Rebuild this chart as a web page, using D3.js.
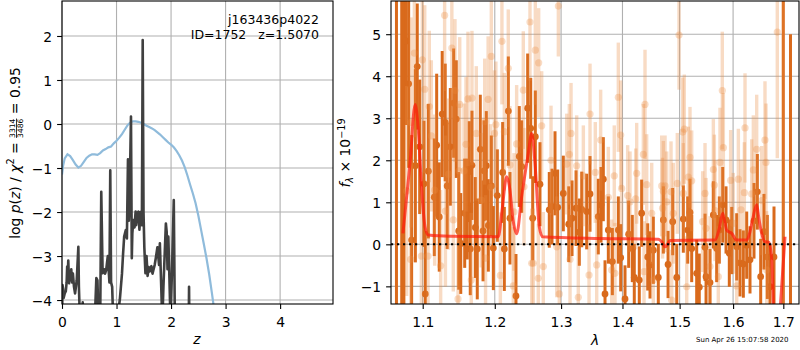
<!DOCTYPE html>
<html>
<head>
<meta charset="utf-8">
<script src="https://cdn.jsdelivr.net/npm/d3@7"></script>
<style>
  body { margin: 0; background: #fff; }
  text { font-family: "DejaVu Sans", sans-serif; fill: #000; }
</style>
</head>
<body>
<svg id="chart" width="800" height="350"></svg>
<script>
// ---- left panel: redshift probability ----
const pzZ = [0, 0.02, 0.05, 0.1, 0.15, 0.2, 0.25, 0.3, 0.35, 0.4, 0.45, 0.5, 0.55, 0.6, 0.65, 0.7, 0.75, 0.8, 0.85, 0.9, 0.95,
  1.0, 1.05, 1.1, 1.15, 1.2, 1.25, 1.3, 1.35, 1.4, 1.45, 1.5, 1.55, 1.6, 1.65, 1.7, 1.75, 1.8, 1.85, 1.9, 1.95,
  2.0, 2.05, 2.1, 2.15, 2.2, 2.25, 2.3, 2.35, 2.4, 2.45, 2.5, 2.55, 2.6, 2.65, 2.7, 2.75, 2.8]
const pzLog = [-1.15, -0.95, -0.78, -0.69, -0.73, -0.82, -0.92, -0.99, -0.95, -0.86, -0.77, -0.72, -0.69, -0.69, -0.70, -0.66, -0.60, -0.57, -0.53, -0.51, -0.44,
  -0.38, -0.31, -0.23, -0.13, -0.03, 0.03, 0.06, 0.06, 0.05, 0.03, 0.0, -0.04, -0.07, -0.10, -0.14, -0.19, -0.24, -0.30, -0.36, -0.42,
  -0.47, -0.53, -0.61, -0.71, -0.83, -0.98, -1.17, -1.38, -1.58, -1.80, -2.08, -2.40, -2.72, -3.05, -3.42, -3.85, -4.3]

const chiZ = [0.0, 0.01, 0.02, 0.03, 0.05, 0.07, 0.085, 0.095, 0.105, 0.115, 0.13, 0.145, 0.16, 0.17, 0.185, 0.2, 0.22, 0.24, 0.27, 0.3, 0.31, 0.33,
  0.36, 0.38, 0.40, 0.6, 0.63, 0.65, 0.67, 0.7, 0.72, 0.745, 0.77, 0.79, 0.81, 0.84, 0.87, 0.885, 0.9, 0.92, 0.94,
  1.0, 1.06, 1.08, 1.1, 1.12, 1.14, 1.17, 1.19, 1.21, 1.225, 1.24, 1.265, 1.28, 1.29, 1.31, 1.33, 1.35, 1.36, 1.38, 1.40, 1.42, 1.44, 1.465,
  1.48, 1.495, 1.51, 1.53, 1.55, 1.57, 1.59, 1.61, 1.64, 1.66, 1.68, 1.70, 1.72, 1.75, 1.78, 1.795, 1.81, 1.84, 1.86, 1.885, 1.905, 1.92,
  1.935, 1.95, 1.97, 1.99, 2.02, 2.05, 2.07, 2.325, 2.33, 2.335]
const chiLog = [-4.5, -3.66, -3.75, -3.95, -3.85, -3.8, -3.6, -3.24, -3.45, -3.1, -3.62, -3.35, -3.55, -3.3, -3.6, -3.4, -3.7, -3.85, -3.55, -2.79, -3.7, -4.5,
  -4.5, -4.05, -4.5, -4.5, -3.5, -3.55, -4.5, -4.5, -1.54, -3.39, -3.3, -3.4, -3.32, -3.0, -3.6, -1.05, -3.6, -3.7, -4.5,
  -4.5, -4.0, -3.7, -3.4, -2.95, -2.56, -2.41, -2.6, -0.80, -2.2, -1.7, 0.17, -3.05, -2.48, -2.18, -2.35, -1.99, -2.3, -2.03, -1.99, -2.4, -2.0, -2.3,
  1.91, -2.0, -2.8, -3.39, -3.0, -3.45, -3.25, -3.35, -3.23, -3.4, -3.3, -3.2, -3.05, -2.8, -3.2, -2.71, -3.3, -4.5, -3.7, -2.9, -2.26, -2.45,
  -3.3, -2.56, -3.5, -4.5, -3.2, -1.73, -4.5, -4.5, -3.7, -4.5]

const zTicks = [0, 1, 2, 3, 4]
const logpTicks = [-4, -3, -2, -1, 0, 1, 2]

// ---- right panel: spectrum, rows are [lambda, flux, error] ----
const darkPoints = [
  [1.0657, 7.0, 9], [1.0725, 7.0, 9], [1.0753, 7.0, 9], [1.0780, 4.84, 2.0], [1.0815, 3.82, 2.0], [1.0854, 0.10, 2.5],
  [1.0903, 1.87, 2.3], [1.0928, 4.23, 1.5], [1.0960, 2.32, 1.6], [1.1017, 1.44, 1.5], [1.1034, -1.18, 1.5], [1.1075, 1.74, 1.6],
  [1.1155, 1.12, 1.4], [1.1187, 2.36, 1.7], [1.1222, 0.65, 1.3], [1.1262, 3.10, 1.5], [1.1303, 2.90, 1.4], [1.1330, 1.39, 1.5],
  [1.1373, 2.32, 1.4], [1.1419, 3.36, 1.3], [1.1455, 2.98, 1.4], [1.1489, 0.32, 1.4], [1.1517, 0.02, 1.2], [1.1572, 0.74, 1.3],
  [1.1608, 0.84, 1.2], [1.1636, 1.73, 1.2], [1.1650, -0.11, 1.1], [1.1674, 1.88, 1.3], [1.1721, 0.40, 1.2], [1.1749, -0.11, 1.2],
  [1.1792, 2.26, 1.3], [1.1831, 0.32, 1.2], [1.1845, 1.75, 1.2], [1.1878, 1.87, 1.3], [1.1907, 0.45, 1.1], [1.1950, 1.39, 1.2],
  [1.1979, -0.09, 1.0], [1.2037, 1.16, 1.1], [1.2115, 1.71, 1.2], [1.2139, -0.11, 1.0], [1.2198, 3.17, 1.3], [1.2222, 0.62, 1.1],
  [1.2311, -1.23, 1.0], [1.2360, 2.09, 1.2], [1.2396, 1.85, 1.1], [1.2486, 3.24, 1.3], [1.2532, 2.76, 1.2], [1.2562, 0.62, 1.0],
  [1.2602, 2.56, 1.1], [1.2673, 1.43, 1.0], [1.2816, 0.82, 0.9], [1.2858, 0.90, 0.9], [1.2905, 1.69, 1.0], [1.2947, 0.88, 0.9],
  [1.3035, 1.21, 0.9], [1.3121, 0.48, 0.9], [1.3173, 0.62, 0.9], [1.3237, 0.86, 0.9], [1.3289, 0.29, 0.8], [1.3328, 0.83, 0.9],
  [1.3408, 0.78, 0.9], [1.3462, 1.20, 0.9], [1.3597, 0.66, 0.9], [1.3642, 0.94, 0.9], [1.3680, 1.55, 1.0], [1.3708, -1.18, 0.8],
  [1.3763, 0.34, 0.8], [1.3830, -0.41, 0.8], [1.3930, 0.34, 0.8], [1.3970, -0.32, 0.8], [1.4043, -1.30, 0.8], [1.4105, 0.24, 0.8],
  [1.4167, -0.10, 0.8], [1.4201, -0.79, 0.8], [1.4287, -0.85, 0.8], [1.4328, 0.74, 0.8], [1.4433, -0.30, 0.8], [1.4473, -0.49, 0.8],
  [1.4531, -0.14, 0.8], [1.4619, -0.79, 0.8], [1.4708, 0.58, 0.8], [1.4792, -0.48, 0.8], [1.4875, 0.54, 0.8], [1.4948, -0.79, 0.8],
  [1.5067, 0.60, 0.8], [1.5147, 0.34, 0.8], [1.5189, 0.76, 0.8], [1.5220, -0.10, 0.8], [1.5312, -0.69, 0.8], [1.5360, -1.02, 0.8],
  [1.5467, -0.07, 0.8], [1.5486, -0.77, 0.8], [1.5560, -0.91, 0.8], [1.5623, 0.70, 0.8], [1.5686, -0.10, 0.8], [1.5736, 0.34, 0.8],
  [1.5801, 0.94, 0.9], [1.5864, 0.58, 0.8], [1.5927, -0.21, 0.8], [1.5974, 0.09, 0.8], [1.6070, -0.06, 0.8], [1.6134, -0.44, 0.8],
  [1.6199, -0.47, 0.8], [1.6265, -0.02, 0.8], [1.6330, -0.37, 0.8], [1.6409, 0.56, 0.9], [1.6475, 1.25, 0.9], [1.6542, -0.77, 0.9],
  [1.6608, 0.30, 0.9], [1.6675, -0.30, 1.0], [1.6729, -1.01, 1.0], [1.6810, -0.30, 1.2], [1.7000, 7.0, 9], [1.7148, -2.5, 7.5]
]

const lightPoints = [
  [1.0789, 1.27, 2.5], [1.0842, -0.36, 2.5], [1.0846, 2.90, 2.5], [1.0890, 4.55, 2.0], [1.0982, -0.28, 2.0], [1.0995, 4.39, 2.0],
  [1.1027, 3.69, 2.0], [1.1071, -0.28, 1.8], [1.1088, 3.28, 1.8], [1.1115, 2.58, 1.8], [1.1160, 1.29, 1.8], [1.1241, -0.51, 1.8],
  [1.1295, 5.45, 1.8], [1.1306, 0.79, 1.8], [1.1348, 1.67, 1.8], [1.1394, 4.67, 1.7], [1.1414, 0.58, 1.7], [1.1437, 3.66, 1.7],
  [1.1479, -1.30, 1.6], [1.1493, 1.75, 1.6], [1.1503, 3.33, 1.6], [1.1562, 1.75, 1.6], [1.1590, 2.38, 1.6], [1.1618, 3.46, 1.6],
  [1.1664, -0.85, 1.6], [1.1674, 3.48, 1.6], [1.1735, 2.64, 1.6], [1.1806, 1.05, 1.6], [1.1855, 2.92, 1.5], [1.1867, -0.33, 1.5],
  [1.1904, 3.45, 1.5], [1.1939, 1.36, 1.5], [1.1950, 4.47, 1.5], [1.1996, 2.64, 1.5], [1.2016, 2.85, 1.5], [1.2081, -0.74, 1.5],
  [1.2104, 4.83, 1.5], [1.2139, 2.68, 1.4], [1.2197, 4.19, 1.4], [1.2222, 1.89, 1.4], [1.2271, -0.99, 1.4], [1.2281, 0.77, 1.4],
  [1.2321, 2.39, 1.4], [1.2420, 3.67, 1.4], [1.2431, 1.37, 1.4], [1.2521, 5.29, 1.4], [1.2547, -0.45, 1.3], [1.2571, -0.45, 1.3],
  [1.2602, 4.62, 1.3], [1.2647, -0.81, 1.3], [1.2653, 4.32, 1.3], [1.2699, 2.82, 1.3], [1.2724, -0.53, 1.3], [1.2843, 2.00, 1.3],
  [1.2932, -0.06, 1.2], [1.2957, 5.67, 1.2], [1.2972, -1.18, 1.2], [1.3089, 1.91, 1.2], [1.3130, 2.14, 1.2], [1.3141, -0.36, 1.2],
  [1.3157, 2.64, 1.2], [1.3247, 1.87, 1.2], [1.3273, -1.26, 1.2], [1.3354, 1.63, 1.2], [1.3446, -0.73, 1.2], [1.3462, 3.10, 1.2],
  [1.3548, 1.71, 1.2], [1.3571, -0.49, 1.2], [1.3636, 2.48, 1.2], [1.3763, 1.12, 1.2], [1.3819, -0.61, 1.2], [1.3862, 1.63, 1.2],
  [1.3874, -0.69, 1.2], [1.3930, 3.50, 1.3], [1.3970, 2.60, 1.3], [1.3986, 1.33, 1.2], [1.4088, 1.16, 1.2], [1.4128, 1.01, 1.2],
  [1.4225, 1.08, 1.2], [1.4242, 1.69, 1.2], [1.4357, 2.14, 1.2], [1.4369, -0.65, 1.2], [1.4386, 3.33, 1.3], [1.4415, 1.42, 1.2],
  [1.4503, 0.74, 1.2], [1.4531, -0.85, 1.2], [1.4679, 1.39, 1.2], [1.4694, 0.86, 1.2], [1.4708, 1.26, 1.2], [1.4738, 1.39, 1.2],
  [1.4768, 1.01, 1.2], [1.4845, 1.25, 1.2], [1.4857, -1.33, 1.2], [1.4886, 0.74, 1.2], [1.4958, 1.45, 1.2], [1.4989, 4.98, 1.3],
  [1.5056, 2.67, 1.3], [1.5067, 1.21, 1.2], [1.5085, 2.74, 1.3], [1.5129, -1.01, 1.2], [1.5158, 1.60, 1.2], [1.5189, 2.07, 1.2],
  [1.5220, 1.51, 1.2], [1.5423, 0.54, 1.2], [1.5467, 1.21, 1.2], [1.5486, 0.38, 1.2], [1.5560, -0.53, 1.2], [1.5623, 1.78, 1.2],
  [1.5642, 1.41, 1.2], [1.5654, 0.80, 1.2], [1.5717, -0.77, 1.2], [1.5749, 1.95, 1.3], [1.5793, 3.66, 1.4], [1.5813, 2.30, 1.3],
  [1.5953, 1.52, 1.2], [1.6003, 0.50, 1.2], [1.6070, -0.99, 1.2], [1.6102, 1.55, 1.2], [1.6154, 0.82, 1.2], [1.6219, 1.23, 1.2],
  [1.6232, 2.77, 1.3], [1.6363, 1.20, 1.3], [1.6396, 1.77, 1.3], [1.6462, 2.26, 1.3], [1.6562, 1.04, 1.3], [1.6628, 2.48, 1.4],
  [1.6648, 1.95, 1.4], [1.6662, -0.61, 1.4], [1.6877, 5.05, 3.0], [1.7000, 7.0, 9]
]

// model: null splits the two pieces
const modelLam = [1.0741, 1.0833, 1.0900, 1.0942, 1.0987, 1.1031, 1.1075, 1.1369, 1.2051, 1.2105, 1.2174, 1.2222, 1.2266, 1.2321,
  1.2396, 1.2496, 1.2547, 1.2597, 1.2662, 1.2714, 1.3625, 1.4619, 1.4684, 1.4738, 1.4792, 1.4827, 1.5654, 1.5730, 1.5801, 1.5877,
  1.5974, 1.6070, 1.6265, 1.6330, 1.6383, 1.6462, 1.6508, 1.6562, 1.6628, 1.6709, 1.6764, 1.6800, null, 1.6932, 1.7035]
const modelFlux = [0.26, 1.93, 3.33, 2.72, 1.29, 0.42, 0.22, 0.19, 0.18, 0.8, 1.61, 1.29, 0.6, 0.25,
  1.13, 2.17, 2.64, 1.93, 0.42, 0.18, 0.14, 0.12, 0.05, -0.06, 0.02, 0.09, 0.10, 0.35, 0.74, 0.34,
  0.26, 0.10, 0.10, 0.30, 0.60, 0.94, 0.60, 0.26, 0.06, 0.05, -0.37, -1.6, null, -1.6, 0.18]

const lamTicks = [1.1, 1.2, 1.3, 1.4, 1.5, 1.6, 1.7]
const fluxTicks = [-1, 0, 1, 2, 3, 4, 5]

const svg = d3.select('#chart')
const FS = 13.9

// Left panel
const L = { left: 62, right: 333, top: 1, bottom: 304 }
const xz = d3.scaleLinear().domain([0, 4.97]).range([L.left, L.right])
const yz = d3.scaleLinear().domain([-4.09, 2.795]).range([L.bottom, L.top])

// Right panel
const R = { left: 391, right: 799, top: 1, bottom: 304 }
const xl = d3.scaleLog().domain([1.0587, 1.7325]).range([R.left, R.right])
const yf = d3.scaleLinear().domain([-1.42, 5.79]).range([R.bottom, R.top])

const defs = svg.append('defs')
function clip(id, b) {
  defs.append('clipPath').attr('id', id)
    .append('rect')
      .attr('x', b.left).attr('y', b.top)
      .attr('width', b.right - b.left).attr('height', b.bottom - b.top)
}
clip('clipL', L)
clip('clipR', R)

function grid(b, xs, xt, ys, yt) {
  const g = svg.append('g').attr('stroke', '#b0b0b0').attr('stroke-width', 1.1)
  xt.forEach(t => g.append('line').attr('x1', xs(t)).attr('x2', xs(t)).attr('y1', b.top).attr('y2', b.bottom))
  yt.forEach(t => g.append('line').attr('x1', b.left).attr('x2', b.right).attr('y1', ys(t)).attr('y2', ys(t)))
}

function axes(b, xs, xt, xfmt, ys, yt) {
  const ax = svg.append('g')
    .attr('transform', `translate(0, ${b.bottom})`)
    .call(d3.axisBottom(xs).tickValues(xt).tickFormat(xfmt).tickSize(4.9).tickPadding(4.9))
  const ay = svg.append('g')
    .attr('transform', `translate(${b.left}, 0)`)
    .call(d3.axisLeft(ys).tickValues(yt).tickFormat(d3.format('d')).tickSize(4.9).tickPadding(4.9))
  ;[ax, ay].forEach(a => {
    a.select('.domain').remove()
    a.selectAll('line').attr('stroke', '#000').attr('stroke-width', 1.1)
    a.selectAll('text').attr('font-size', FS).attr('font-family', '"DejaVu Sans", sans-serif').attr('fill', '#000')
  })
  ax.selectAll('text').attr('dy', null).attr('y', 22.5)
  ay.selectAll('text').attr('dy', '0.36em')
}

function frame(b) {
  svg.append('rect')
    .attr('x', b.left).attr('y', b.top)
    .attr('width', b.right - b.left).attr('height', b.bottom - b.top)
    .attr('fill', 'none').attr('stroke', '#000').attr('stroke-width', 1.1)
}

// ---------- left panel ----------
grid(L, xz, zTicks, yz, logpTicks)

const lineZ = d3.line().x(d => xz(d[0])).y(d => yz(d[1]))
const gl = svg.append('g').attr('clip-path', 'url(#clipL)')

gl.append('path')
  .attr('d', lineZ(pzZ.map((z, i) => [z, pzLog[i]])))
  .attr('fill', 'none')
  .attr('stroke', '#8fbbdb')
  .attr('stroke-width', 2.2)

gl.append('path')
  .attr('d', lineZ(chiZ.map((z, i) => [z, chiLog[i]])))
  .attr('fill', 'none')
  .attr('stroke', '#404040')
  .attr('stroke-width', 2.6)
  .attr('stroke-linejoin', 'round')

axes(L, xz, zTicks, d3.format('d'), yz, logpTicks)
frame(L)

const note = svg.append('g').attr('font-size', 12.5).attr('text-anchor', 'end')
note.append('text').attr('x', 319).attr('y', 24).text('j163436p4022')
note.append('text').attr('x', 319).attr('y', 39)
  .attr('xml:space', 'preserve').style('white-space', 'pre')
  .text('ID=1752   z=1.5070')

// ---------- right panel ----------
grid(R, xl, lamTicks, yf, fluxTicks)

const gr = svg.append('g').attr('clip-path', 'url(#clipR)')

// dark spectrum
gr.append('g')
  .selectAll('line')
  .data(darkPoints)
  .enter()
  .append('line')
    .attr('x1', d => xl(d[0])).attr('x2', d => xl(d[0]))
    .attr('y1', d => yf(d[1] - d[2])).attr('y2', d => yf(d[1] + d[2]))
    .attr('stroke', '#d96a1c')
    .attr('stroke-width', 3)
gr.append('g')
  .selectAll('circle')
  .data(darkPoints)
  .enter()
  .append('circle')
    .attr('cx', d => xl(d[0])).attr('cy', d => yf(d[1]))
    .attr('r', 3.4)
    .attr('fill', '#d96a1c')

// light spectrum
gr.append('g')
  .selectAll('line')
  .data(lightPoints)
  .enter()
  .append('line')
    .attr('x1', d => xl(d[0])).attr('x2', d => xl(d[0]))
    .attr('y1', d => yf(d[1] - d[2])).attr('y2', d => yf(d[1] + d[2]))
    .attr('stroke', '#ea8a40')
    .attr('stroke-width', 3.4)
    .attr('opacity', 0.3)
gr.append('g')
  .selectAll('circle')
  .data(lightPoints)
  .enter()
  .append('circle')
    .attr('cx', d => xl(d[0])).attr('cy', d => yf(d[1]))
    .attr('r', 3.6)
    .attr('fill', '#ea8a40')
    .attr('opacity', 0.3)

// model
const modelLine = d3.line()
  .defined(d => d[0] !== null)
  .x(d => xl(d[0]))
  .y(d => yf(d[1]))
  .curve(d3.curveMonotoneX)

gr.append('path')
  .attr('d', modelLine(modelLam.map((l, i) => [l, modelFlux[i]])))
  .attr('fill', 'none')
  .attr('stroke', '#ff1a0a')
  .attr('stroke-width', 3)
  .attr('opacity', 0.7)

// zero level
gr.append('line')
  .attr('x1', R.left).attr('x2', R.right)
  .attr('y1', yf(0)).attr('y2', yf(0))
  .attr('stroke', '#000')
  .attr('stroke-width', 2)
  .attr('stroke-dasharray', '2.2,3.8')

axes(R, xl, lamTicks, d3.format('.1f'), yf, fluxTicks)
frame(R)

// ---------- axis labels ----------
svg.append('text')
  .attr('x', 197).attr('y', 344)
  .attr('text-anchor', 'middle').attr('font-size', FS).attr('font-style', 'italic')
  .text('z')
svg.append('text')
  .attr('x', 595).attr('y', 345)
  .attr('text-anchor', 'middle').attr('font-size', FS).attr('font-style', 'italic')
  .text('λ')

// pieces of a rotated math label, laid out one after another
function mathLabel(x, y, pieces) {
  const outer = svg.append('g').attr('transform', `translate(${x}, ${y}) rotate(-90)`)
  const g = outer.append('g')
  let pos = 0
  pieces.forEach(p => {
    if (p.num) {
      const a = g.append('text').attr('x', pos).attr('y', -4.4).attr('font-size', 7.6).text(p.num)
      const b = g.append('text').attr('x', pos).attr('y', 3.4).attr('font-size', 7.6).text(p.den)
      const w = Math.max(a.node().getComputedTextLength(), b.node().getComputedTextLength())
      g.append('rect').attr('x', pos).attr('y', -3.4).attr('width', w).attr('height', 0.8).attr('fill', '#000')
      pos += w
    } else {
      const t = g.append('text')
        .attr('x', pos).attr('y', p.dy || 0)
        .attr('font-size', p.size || FS)
        .attr('font-style', p.it ? 'italic' : null)
        .attr('xml:space', 'preserve').style('white-space', 'pre')
        .text(p.t)
      pos += t.node().getComputedTextLength()
    }
  })
  g.attr('transform', `translate(${-pos / 2}, 0)`)
}

mathLabel(19.5, 153, [
  { t: 'log ' }, { t: 'p', it: true }, { t: '(' }, { t: 'z', it: true }, { t: ') / ' },
  { t: 'χ', it: true }, { t: '2', size: 9.7, dy: -5.5 }, { t: ' = ' },
  { num: '3314', den: '3486' }, { t: ' = 0.95' }
])

mathLabel(350, 153, [
  { t: 'f', it: true }, { t: 'λ', it: true, size: 9.7, dy: 3 }, { t: ' × 10' },
  { t: '−19', size: 9.7, dy: -5.5 }
])

svg.append('text')
  .attr('x', 696).attr('y', 342)
  .attr('font-size', 7)
  .text('Sun Apr 26 15:07:58 2020')
</script>
</body>
</html>
